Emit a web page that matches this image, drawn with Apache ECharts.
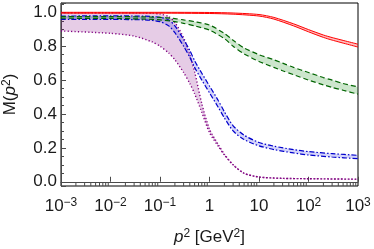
<!DOCTYPE html>
<html><head><meta charset="utf-8">
<script src="https://cdn.jsdelivr.net/npm/echarts@6/dist/echarts.min.js"></script>
<style>html,body{margin:0;padding:0;background:#fff}#c{width:374px;height:249px}</style>
</head><body><div id="c"></div>
<script>
// ---- data ----
const xDecades = [0.001, 0.01, 0.1, 1, 10, 100, 1000];
const minorMult = [2, 3, 4, 5, 6, 7, 8, 9];
const yTickLabels = ['0.0', '0.2', '0.4', '0.6', '0.8', '1.0'];

const redX     = [0.001, 0.01, 0.1, 1, 3, 10, 20, 50, 100, 200, 300, 1000];
const redUpper = [1.000, 1.000, 1.000, 0.999, 0.996, 0.987, 0.970, 0.932, 0.898, 0.866, 0.851, 0.812];
const redLower = [0.995, 0.995, 0.995, 0.993, 0.989, 0.978, 0.960, 0.920, 0.885, 0.852, 0.836, 0.795];

const greenX     = [0.001, 0.01, 0.05, 0.1, 0.2, 0.3, 0.5, 1, 2, 3, 5, 10, 20, 30, 50, 100, 200, 300, 500, 1000];
const greenUpper = [0.975, 0.975, 0.973, 0.970, 0.963, 0.955, 0.945, 0.925, 0.875, 0.835, 0.790, 0.750, 0.720, 0.700, 0.675, 0.645, 0.615, 0.600, 0.580, 0.560];
const greenLower = [0.965, 0.964, 0.960, 0.955, 0.945, 0.935, 0.920, 0.895, 0.845, 0.800, 0.755, 0.710, 0.675, 0.655, 0.632, 0.600, 0.572, 0.557, 0.540, 0.517];

const blueX     = [0.001, 0.01, 0.05, 0.1, 0.15, 0.2, 0.3, 0.4, 0.5, 0.7, 1, 1.5, 2, 3, 5, 10, 20, 50, 100, 300, 1000];
const blueUpper = [0.978, 0.979, 0.977, 0.971, 0.955, 0.920, 0.840, 0.775, 0.715, 0.640, 0.565, 0.480, 0.413, 0.330, 0.275, 0.232, 0.210, 0.190, 0.178, 0.166, 0.156];
const blueLower = [0.958, 0.958, 0.955, 0.945, 0.920, 0.880, 0.800, 0.735, 0.675, 0.600, 0.525, 0.440, 0.377, 0.300, 0.249, 0.212, 0.190, 0.170, 0.158, 0.146, 0.136];

const purpleX     = [0.001, 0.01, 0.03, 0.07, 0.1, 0.15, 0.2, 0.3, 0.4, 0.5, 0.7, 1, 1.5, 2, 3, 5, 10, 30, 100, 1000];
const purpleUpper = [0.997, 0.997, 0.996, 0.994, 0.990, 0.975, 0.940, 0.850, 0.750, 0.650, 0.460, 0.310, 0.220, 0.162, 0.100, 0.050, 0.028, 0.020, 0.018, 0.015];
const purpleLower = [0.890, 0.876, 0.860, 0.825, 0.800, 0.760, 0.720, 0.645, 0.580, 0.520, 0.410, 0.290, 0.210, 0.158, 0.100, 0.050, 0.028, 0.020, 0.018, 0.015];

// ---- chart ----
const Y_MIN = -0.025, Y_MAX = 1.055;
const FONT = 'Liberation Sans';
const axisCol = '#4a4a4a';
const textCol = '#1a1a1a';

function line(xs, ys, color, dash, width) {
  return {type: 'line', data: xs.map((x, i) => [x, ys[i]]), symbol: 'none', smooth: 0.25,
          lineStyle: {color: color, width: width, type: dash}, silent: true, z: 3};
}
function fill(xs, lo, hi, color) {
  return {type: 'custom', silent: true, z: 2, clip: true, data: [[xs[0], lo[0]]],
    renderItem: (p, api) => {
      const pts = [];
      for (let i = 0; i < xs.length; i++) pts.push(api.coord([xs[i], hi[i]]));
      for (let i = xs.length - 1; i >= 0; i--) pts.push(api.coord([xs[i], lo[i]]));
      return {type: 'polygon', shape: {points: pts}, style: {fill: color}};
    }};
}
function band(xs, lo, hi, color, fillColor, dash, width) {
  return [fill(xs, lo, hi, fillColor), line(xs, lo, color, dash, width), line(xs, hi, color, dash, width)];
}

const minorTicks = [];
for (let d = 0; d < xDecades.length - 1; d++) for (const m of minorMult) minorTicks.push([xDecades[d] * m, Y_MIN]);

const sup = {fontSize: 12, fontFamily: FONT, color: textCol, verticalAlign: 'top', lineHeight: 12, padding: [0, 0, 8, 0]};
const base = {fontSize: 17, fontFamily: FONT, color: textCol, lineHeight: 19};

const option = {
  animation: false,
  backgroundColor: '#fff',
  grid: {left: 61, right: 16, top: 3, bottom: 63, show: true, borderColor: '#000', borderWidth: 1,
         containLabel: false, outerBoundsMode: 'none'},
  xAxis: {
    type: 'log', logBase: 10, min: 0.001, max: 1000,
    axisLine: {lineStyle: {color: axisCol, width: 1}},
    axisTick: {inside: true, length: 5, lineStyle: {color: axisCol}},
    splitLine: {show: false}, minorSplitLine: {show: false},
    axisLabel: {
      margin: 11, hideOverlap: false,
      formatter: v => {
        const e = Math.round(Math.log10(v));
        if (e === 0) return '{b|1}';
        if (e === 1) return '{b|10}';
        return '{b|10}{s|' + (e < 0 ? '\u2212' + (-e) : e) + '}';
      },
      rich: {b: base, s: sup}
    },
    name: '{i|p}{s|2}{b| [GeV}{s|2}{b|]}',
    nameLocation: 'middle', nameGap: 42,
    nameTextStyle: {rich: {i: Object.assign({}, base, {fontStyle: 'italic'}), b: base, s: sup}}
  },
  yAxis: {
    type: 'value', min: Y_MIN, max: Y_MAX,
    axisLine: {show: true, lineStyle: {color: axisCol, width: 1}},
    axisTick: {show: true, inside: true, length: 5, lineStyle: {color: axisCol}},
    minorTick: {show: true, splitNumber: 4, length: 3, lineStyle: {color: axisCol}},
    splitLine: {show: false},
    axisLabel: {
      margin: 4, fontSize: 17, fontFamily: FONT, color: textCol,
      showMinLabel: false, showMaxLabel: false,
      formatter: v => { const s = v.toFixed(1); return yTickLabels.includes(s) && Math.abs(v - parseFloat(s)) < 1e-6 ? s : ''; }
    },
    name: '{b|M(}{i|p}{s|2}{b|)}',
    nameLocation: 'middle', nameGap: 41, nameRotate: 90,
    nameTextStyle: {rich: {i: Object.assign({}, base, {fontStyle: 'italic'}), b: base, s: sup}}
  },
  series: [
    ...band(purpleX, purpleLower, purpleUpper, '#800080', 'rgba(128,0,128,0.2)', [1.2, 2.2], 1.4),
    ...band(blueX, blueLower, blueUpper, '#0000cc', 'rgba(60,60,230,0.22)', [5, 2, 1.5, 2], 1.2),
    ...band(greenX, greenLower, greenUpper, '#006400', 'rgba(0,128,0,0.2)', [5, 3], 1.2),
    ...band(redX, redLower, redUpper, '#ff0000', 'rgba(255,0,0,0.25)', 'solid', 1),
    {type: 'custom', data: minorTicks, silent: true, clip: false, z: 5,
     renderItem: (p, api) => {
       const c = api.coord([api.value(0), Y_MIN]);
       return {type: 'line', shape: {x1: c[0], y1: c[1], x2: c[0], y2: c[1] - 3}, style: {stroke: axisCol, lineWidth: 1}};
     }}
  ]
};
const chart = echarts.init(document.getElementById('c'), null, {renderer: 'canvas'});
chart.setOption(option);
</script></body></html>
